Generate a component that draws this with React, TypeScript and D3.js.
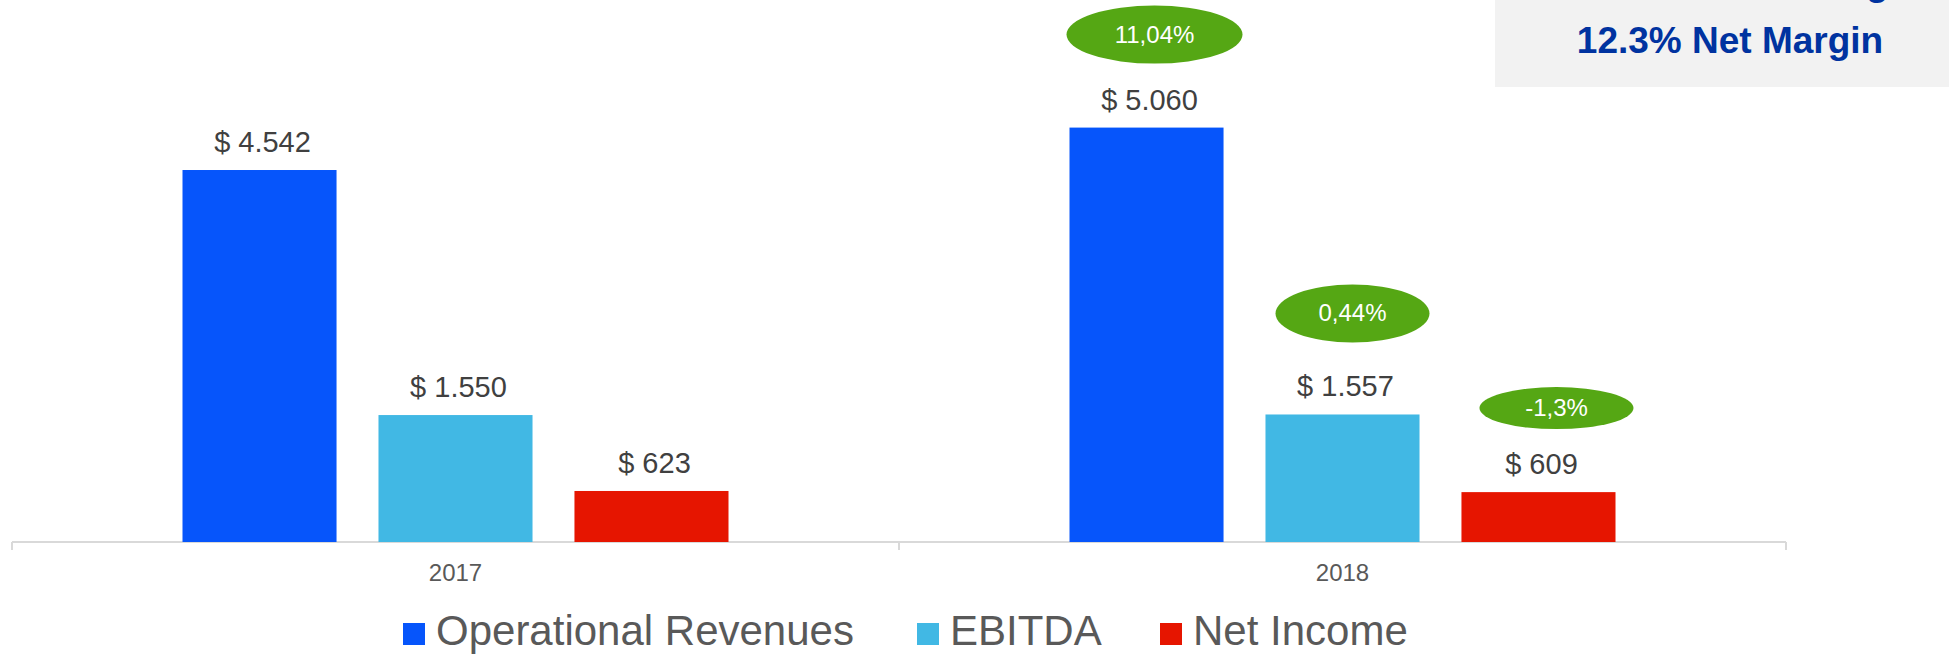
import React, { useEffect, useRef } from "react";
import * as d3 from "d3";

// chart values
const years = ["2017", "2018"];
const seriesNames = ["Operational Revenues", "EBITDA", "Net Income"];
const revenues = [4542, 5060];
const ebitda = [1550, 1557];
const netIncome = [623, 609];
const growth2018 = ["11,04%", "0,44%", "-1,3%"];
const marginNotes = ["30.8% EBITDA Margin", "12.3% Net Margin"];

const colors = ["#0655fb", "#41b8e4", "#e61500"];

// bubble placement relative to bar (center x / bar top)
const bubbleLayout = [
  { dx: 8, dy: -93, rx: 88, ry: 29 },
  { dx: 10, dy: -101, rx: 77, ry: 29 },
  { dx: 18, dy: -84, rx: 77, ry: 21 },
];

const App = () => {
  const ref = useRef<HTMLDivElement>(null);

  useEffect(() => {
    if (!ref.current) return;
    const width = 1949;
    const height = 655;

    d3.select(ref.current).selectAll("*").remove();

    const svg = d3
      .select(ref.current)
      .append("svg")
      .attr("width", width)
      .attr("height", height)
      .style("position", "absolute")
      .style("left", 0)
      .style("top", 0)
      .style("font-family", "'Liberation Sans', Arial, sans-serif");

    const values = [revenues, ebitda, netIncome];
    const rows = years.map((year, i) => ({
      year,
      bars: seriesNames.map((name, s) => ({ name, s, value: values[s][i] })),
    }));

    const x0 = d3.scaleBand().domain(years).range([12, 1786]).padding(0);
    const groupW = 546;
    const x1 = d3
      .scaleBand()
      .domain(seriesNames)
      .range([0, groupW])
      .paddingInner(0.214)
      .paddingOuter(0);
    const y = d3.scaleLinear().domain([0, 6000]).range([542, 50.6]);

    const loc = d3.formatLocale({
      decimal: ",",
      thousands: ".",
      grouping: [3],
      currency: ["$ ", ""],
    });
    const fmt = loc.format("$,");

    // note box, top right (first line is cut off by the top edge)
    svg
      .append("rect")
      .attr("x", 1495)
      .attr("y", 0)
      .attr("width", width - 1495)
      .attr("height", 87)
      .attr("fill", "#f2f2f2");
    svg
      .append("g")
      .selectAll("text")
      .data(marginNotes)
      .join("text")
      .attr("x", 1730)
      .attr("y", (d, i) => -5 + i * 58)
      .attr("text-anchor", "middle")
      .attr("font-size", 37)
      .attr("font-weight", "bold")
      .attr("fill", "#0033a0")
      .text((d) => d);

    // axis
    const axis = svg.append("g");
    axis
      .append("line")
      .attr("x1", x0.range()[0])
      .attr("x2", x0.range()[1])
      .attr("y1", y(0))
      .attr("y2", y(0))
      .attr("stroke", "#d9d9d9")
      .attr("stroke-width", 2);
    const tickXs = [...years.map((d) => x0(d)), x0.range()[1]];
    axis
      .selectAll(".tick")
      .data(tickXs)
      .join("line")
      .attr("x1", (d) => d)
      .attr("x2", (d) => d)
      .attr("y1", y(0))
      .attr("y2", y(0) + 8)
      .attr("stroke", "#d9d9d9")
      .attr("stroke-width", 2);
    axis
      .selectAll(".cat")
      .data(years)
      .join("text")
      .attr("x", (d) => x0(d) + x0.bandwidth() / 2)
      .attr("y", 581)
      .attr("text-anchor", "middle")
      .attr("font-size", 24)
      .attr("fill", "#595959")
      .text((d) => d);

    const groups = svg
      .append("g")
      .selectAll("g")
      .data(rows)
      .join("g")
      .attr(
        "transform",
        (d) => `translate(${x0(d.year) + (x0.bandwidth() - groupW) / 2},0)`
      );

    groups
      .selectAll("rect")
      .data((d) => d.bars)
      .join("rect")
      .attr("x", (d) => x1(d.name))
      .attr("y", (d) => y(d.value))
      .attr("width", x1.bandwidth())
      .attr("height", (d) => y(0) - y(d.value))
      .attr("fill", (d) => colors[d.s]);

    groups
      .selectAll("text.val")
      .data((d) => d.bars)
      .join("text")
      .attr("class", "val")
      .attr("x", (d) => x1(d.name) + x1.bandwidth() / 2 + 3)
      .attr("y", (d) => y(d.value) - 18)
      .attr("text-anchor", "middle")
      .attr("font-size", 29)
      .attr("fill", "#404040")
      .text((d) => fmt(d.value));

    // growth bubbles over 2018
    const last = groups.filter((d) => d.year === years[years.length - 1]);
    const bubbles = last
      .selectAll("g.bubble")
      .data((d) => d.bars)
      .join("g")
      .attr("class", "bubble")
      .attr("transform", (d) => {
        const l = bubbleLayout[d.s];
        return `translate(${x1(d.name) + x1.bandwidth() / 2 + l.dx},${
          y(d.value) + l.dy
        })`;
      });
    bubbles
      .append("ellipse")
      .attr("rx", (d) => bubbleLayout[d.s].rx)
      .attr("ry", (d) => bubbleLayout[d.s].ry)
      .attr("fill", "#55a714");
    bubbles
      .append("text")
      .attr("y", 8)
      .attr("text-anchor", "middle")
      .attr("font-size", 24)
      .attr("fill", "#ffffff")
      .text((d) => growth2018[d.s]);

    // legend
    const legendX = [403, 917, 1160];
    const legend = svg
      .append("g")
      .selectAll("g")
      .data(seriesNames)
      .join("g")
      .attr("transform", (d, i) => `translate(${legendX[i]},623)`);
    legend
      .append("rect")
      .attr("width", 22)
      .attr("height", 22)
      .attr("fill", (d, i) => colors[i]);
    legend
      .append("text")
      .attr("x", 33)
      .attr("y", 22)
      .attr("font-size", 42)
      .attr("fill", "#595959")
      .text((d) => d);
  }, []);

  return <div ref={ref}></div>;
};

export default App;
